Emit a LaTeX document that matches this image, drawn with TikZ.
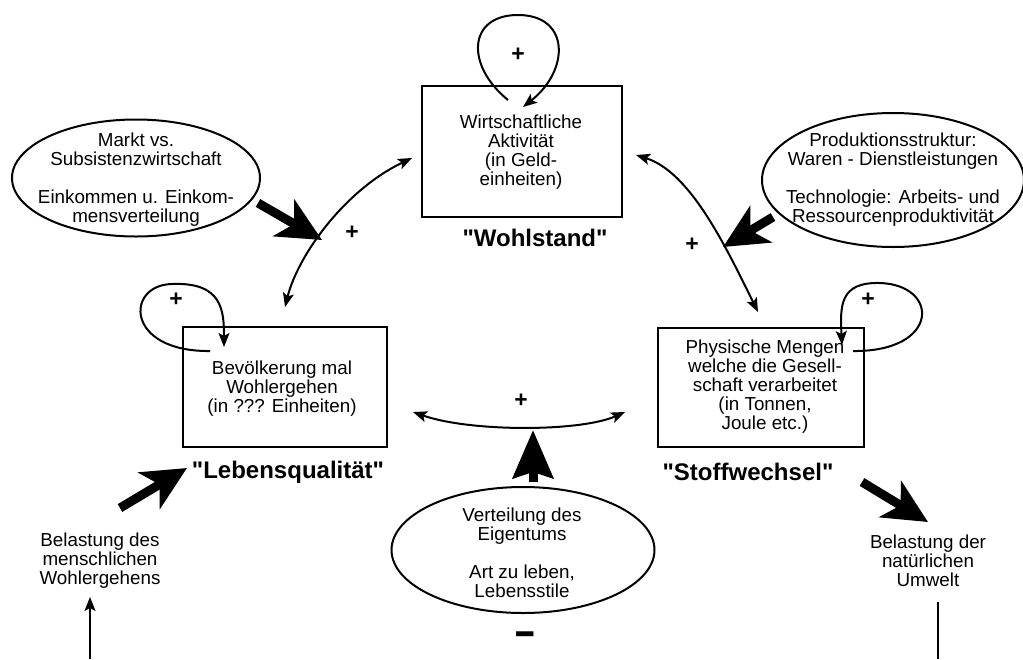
\documentclass[tikz,border=0pt]{standalone}
\usepackage{fontspec}
\usepackage{graphicx}
\setmainfont{Liberation Sans}
\usetikzlibrary{arrows.meta,shapes.geometric}
\newcommand\txtfont{\fontsize{18.8}{19}\selectfont}
\newcommand\lblfont{\fontsize{24}{24}\selectfont\bfseries}
\newcommand\plusfont{\fontsize{23}{23}\selectfont\bfseries}
\newcommand\qq{\textquotedbl}
\begin{document}
\begin{tikzpicture}[x=1pt,y=-1pt,
  stockbox/.style={draw,line width=2pt,inner sep=0pt},
  oval/.style={ellipse,draw,line width=2pt,inner sep=0pt},
  txt/.style={align=center,font=\txtfont,inner sep=0pt},
  lbl/.style={font=\lblfont,inner sep=0pt},
  sign/.style={font=\plusfont,inner sep=0pt},
  conn/.style={line width=2pt,-{Stealth[length=14pt,width=11pt,inset=3pt]}},
  conn2/.style={line width=2pt,{Stealth[length=14pt,width=11pt,inset=3pt]}-{Stealth[length=14pt,width=11pt,inset=3pt]}},
  plain/.style={line width=1.8pt},
  fat/.style={line width=9pt,-{Stealth[length=44pt,width=42pt,inset=12pt]}},
  fatup/.style={line width=9pt,-{Stealth[length=48pt,width=40pt,inset=6pt]}}]
\useasboundingbox (0,0) rectangle (1023,659);

% boxes
\node[stockbox,minimum width=200pt,minimum height=131pt] (wirt) at (522,151.5) {};
\node[txt] (wirtT) at (521,152) {Wirtschaftliche\\Aktivität\\(in Geld-\\einheiten)};
\node[stockbox,minimum width=204pt,minimum height=120pt] (bev) at (285,387) {};
\node[txt] (bevT) at (282,388.5) {Bevölkerung mal\\Wohlergehen\\(in ??? Einheiten)};
\node[stockbox,minimum width=206pt,minimum height=119pt] (phys) at (761,387.5) {};
\node[txt] (physT) at (765,386.5) {Physische Mengen\\welche die Gesell-\\schaft verarbeitet\\(in Tonnen,\\Joule etc.)};

% labels
\node[lbl] (wohl) at (535,238) {\qq Wohlstand\qq};
\node[lbl] (leben) at (288,472) {\qq Lebensqualität\qq};
\node[lbl] (stoff) at (748,472) {\qq Stoffwechsel\qq};

% ellipses
\node[oval,minimum width=248pt,minimum height=117pt] (markt) at (136,178) {};
\node[txt] (marktT) at (136,179.5) {Markt vs.\\Subsistenzwirtschaft\\[19pt]Einkommen u. Einkom-\\mensverteilung};
\node[oval,minimum width=262pt,minimum height=134pt] (prod) at (893,180) {};
\node[txt] (prodT) at (893,180) {Produktionsstruktur:\\Waren - Dienstleistungen\\[19pt]Technologie: Arbeits- und\\Ressourcenproduktivität};
\node[oval,minimum width=263pt,minimum height=126pt] (vert) at (523,550) {};
\node[txt] (vertT) at (522,553) {Verteilung des\\Eigentums\\[19pt]Art zu leben,\\Lebensstile};

% Belastung texts
\node[txt] (belM) at (100,560.5) {Belastung des\\menschlichen\\Wohlergehens};
\node[txt] (belN) at (928,560.5) {Belastung der\\natürlichen\\Umwelt};

% signs
\node[sign] (p1) at (518,55) {+};
\node[sign] (p2) at (352,233) {+};
\node[sign] (p3) at (692,245) {+};
\node[sign] (p4) at (176,300) {+};
\node[sign] (p5) at (868,300) {+};
\node[sign] (p6) at (521,401) {+};
\node[font=\fontsize{26}{26}\selectfont\bfseries,inner sep=0pt] (minus) at (525,640) {\scalebox{1.35}[1.9]{–}};

% coordinates
\coordinate (lA) at (285,307);
\coordinate (lB) at (412,158);
\coordinate (lX) at (322,240);
\coordinate (rA) at (636,155);
\coordinate (rB) at (758,312);
\coordinate (rX) at (723,247);
\coordinate (bA) at (413,412);
\coordinate (bB) at (625,412);
\coordinate (bX) at (533,430);
\coordinate (t1) at (508,100);
\coordinate (t2) at (523,107);
\coordinate (bl1) at (210,351);
\coordinate (bl2) at (224,347);
\coordinate (ph1) at (853,351);
\coordinate (ph2) at (842,345);
\coordinate (mk) at (258,203);
\coordinate (pr) at (773,217);
\coordinate (vt) at (533,482);
\coordinate (lq) at (187,468);
\coordinate (lqs) at (120,508);
\coordinate (sw) at (862,482);
\coordinate (swe) at (928,522);
\coordinate (mBot) at (90,659);
\coordinate (mTop) at (90,597);
\coordinate (nTop) at (938,602);
\coordinate (nBot) at (938,659);

% arcs between stocks
\draw[conn2] (lA) .. controls (298,255) and (345,190) .. (lB);
\draw[conn2] (rA) .. controls (690,172) and (725,245) .. (rB);
\draw[conn2] (bA) .. controls (470,432) and (580,432) .. (bB);

% self loops
\draw[conn] (t1) .. controls (465,65) and (468,15) .. (518,15) .. controls (570,15) and (570,70) .. (t2);
\draw[conn] (bl1) .. controls (125,352) and (125,285) .. (172,284) .. controls (222,282) and (224,310) .. (bl2);
\draw[conn] (ph1) .. controls (940,352) and (940,285) .. (880,283) .. controls (840,282) and (840,305) .. (ph2);

% fat influence arrows
\draw[fat] (mk) -- (lX);
\draw[fat] (pr) -- (rX);
\draw[fatup] (vt) -- (bX);
\draw[fat] (lqs) -- (lq);
\draw[fat] (sw) -- (swe);

% bottom lines
\draw[conn] (mBot) -- (mTop);
\draw[plain] (nTop) -- (nBot);
\end{tikzpicture}
\end{document}
